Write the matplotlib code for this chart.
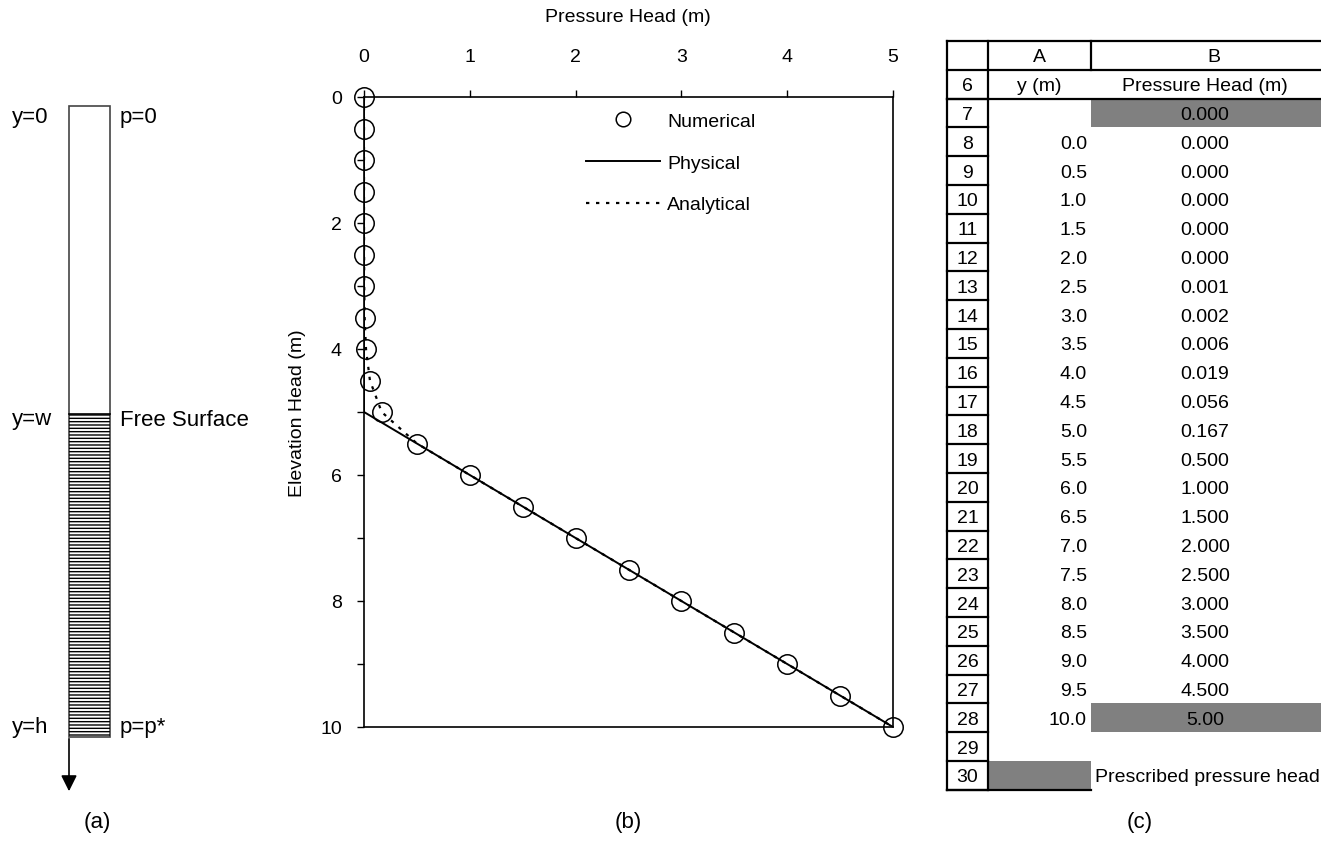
import matplotlib
matplotlib.use('Agg')
import matplotlib.pyplot as plt
from matplotlib.patches import Rectangle

plt.rcParams['font.family'] = ['Liberation Sans', 'DejaVu Sans']
plt.rcParams['hatch.linewidth'] = 1.0

# values (spreadsheet rows 8-28)
elevation = [0.0, 0.5, 1.0, 1.5, 2.0, 2.5, 3.0, 3.5, 4.0, 4.5, 5.0,
             5.5, 6.0, 6.5, 7.0, 7.5, 8.0, 8.5, 9.0, 9.5, 10.0]
numerical = [0.000, 0.000, 0.000, 0.000, 0.000, 0.001, 0.002, 0.006, 0.019, 0.056, 0.167,
             0.500, 1.000, 1.500, 2.000, 2.500, 3.000, 3.500, 4.000, 4.500, 5.000]
analytical = [0.000, 0.000, 0.000, 0.000, 0.000, 0.001, 0.002, 0.006, 0.019, 0.056, 0.167,
              0.500, 1.000, 1.500, 2.000, 2.500, 3.000, 3.500, 4.000, 4.500, 5.000]
physical_y = [0.0, 5.0, 10.0]
physical_p = [0.0, 0.0, 5.0]

row_numbers = list(range(6, 31))
col_a = ['y (m)', ''] + ['%.1f' % v for v in elevation] + ['', '']
col_b = ['Pressure Head (m)', '0.000'] + ['%.3f' % v for v in numerical[:-1]] + \
    ['5.00', '', 'Prescribed pressure head']
shaded = {(7, 'B'), (28, 'B'), (30, 'A')}

W, H = 1321, 853
fig = plt.figure(figsize=(W / 100, H / 100), dpi=100)

# overlay in pixel coordinates for panels (a) and (c)
ov = fig.add_axes([0, 0, 1, 1])
ov.set_xlim(0, W)
ov.set_ylim(H, 0)
ov.axis('off')

# ---- (a) column sketch
ov.add_patch(Rectangle((69, 107), 41, 631, fill=False, lw=1.2, edgecolor='#444444'))
ov.add_patch(Rectangle((69, 415), 41, 323, fill=False, lw=0, hatch='-----', edgecolor='black'))
ov.plot([69, 110], [415, 415], color='black', lw=1.2)
ov.annotate('', xy=(69, 795), xytext=(69, 737),
            arrowprops=dict(arrowstyle='-|>', color='black', lw=1.2, mutation_scale=24))
fs_a = 16
ov.text(12, 117, 'y=0', fontsize=fs_a, va='center', ha='left')
ov.text(120, 117, 'p=0', fontsize=fs_a, va='center', ha='left')
ov.text(12, 420, 'y=w', fontsize=fs_a, va='center', ha='left')
ov.text(120, 420, 'Free Surface', fontsize=fs_a, va='center', ha='left')
ov.text(12, 727, 'y=h', fontsize=fs_a, va='center', ha='left')
ov.text(120, 727, 'p=p*', fontsize=fs_a, va='center', ha='left')
ov.text(97, 823, '(a)', fontsize=fs_a, va='center', ha='center')
ov.text(628, 823, '(b)', fontsize=fs_a, va='center', ha='center')
ov.text(1140, 823, '(c)', fontsize=fs_a, va='center', ha='center')

# ---- (c) spreadsheet
x0, x1, x2, x3 = 947, 988, 1091, 1321
top, pitch = 42, 28.8
n_rows = len(row_numbers) + 1
bottom = top + n_rows * pitch
lw_t = 1.6
fs_t = 14

for r, a, b in zip(row_numbers, col_a, col_b):
    i = r - 5
    ry = top + i * pitch
    if (r, 'A') in shaded:
        ov.add_patch(Rectangle((x1, ry), x2 - x1, pitch, color='#808080', lw=0))
    if (r, 'B') in shaded:
        ov.add_patch(Rectangle((x2, ry), x3 - x2, pitch, color='#808080', lw=0))
    cy = ry + pitch / 2 + 1.5
    ov.text((x0 + x1) / 2, cy, str(r), fontsize=fs_t, ha='center', va='center')
    if r == 6:
        ov.text((x1 + x2) / 2, cy, a, fontsize=fs_t, ha='center', va='center')
    elif a:
        ov.text(x2 - 4, cy, a, fontsize=fs_t, ha='right', va='center')
    if r == 30:
        ov.text(x2 + 4, cy, b, fontsize=fs_t, ha='left', va='center')
    elif b:
        ov.text(1205, cy, b, fontsize=fs_t, ha='center', va='center')
    ov.plot([x0, x1], [ry + pitch, ry + pitch], color='black', lw=lw_t)

ov.text((x1 + x2) / 2, top + pitch / 2 + 1.5, 'A', fontsize=fs_t, ha='center', va='center')
ov.text(1214, top + pitch / 2 + 1.5, 'B', fontsize=fs_t, ha='center', va='center')
ov.plot([x0, x3], [top, top], color='black', lw=lw_t)
ov.plot([x0, x3], [top + pitch, top + pitch], color='black', lw=lw_t)
ov.plot([x0, x3], [top + 2 * pitch, top + 2 * pitch], color='black', lw=lw_t)
ov.plot([x0, x2], [bottom, bottom], color='black', lw=lw_t)
ov.plot([x0, x0], [top, bottom], color='black', lw=lw_t)
ov.plot([x1, x1], [top, bottom], color='black', lw=lw_t)
ov.plot([x2, x2], [top, top + pitch], color='black', lw=lw_t)

# ---- (b) chart
fs_b = 14
ax = fig.add_axes([364 / W, 1 - 728 / H, (893 - 364) / W, (728 - 98) / H])
ax.patch.set_alpha(0)
ax.plot(physical_p, physical_y, color='black', lw=1.4, label='Physical', zorder=3)
ax.plot(analytical, elevation, color='black', lw=1.6, linestyle=(0, (1.5, 3)),
        label='Analytical', zorder=3)
ax.plot(numerical, elevation, linestyle='none', marker='o', markersize=14,
        markerfacecolor='none', markeredgecolor='black', markeredgewidth=1.1,
        label='Numerical', clip_on=False, zorder=4)

ax.set_xlim(0, 5)
ax.set_ylim(10, 0)
ax.xaxis.tick_top()
ax.set_xticks(range(0, 6))
ax.set_yticks(range(0, 11))
ax.set_yticklabels([str(v) if v % 2 == 0 else '' for v in range(0, 11)])
ax.tick_params(axis='x', direction='out', length=5, width=1, pad=18, labelsize=fs_b)
ax.tick_params(axis='y', direction='out', length=5, width=1, pad=11, labelsize=fs_b)
for s in ax.spines.values():
    s.set_linewidth(1.2)

ax.xaxis.set_label_position('top')
ax.set_xlabel('Pressure Head (m)', fontsize=fs_b, va='center')
ax.xaxis.set_label_coords(0.499, (728 - 18) / 630)
ax.set_ylabel('Elevation Head (m)', fontsize=fs_b, va='center')
ax.yaxis.set_label_coords((298 - 364) / 529, 0.5)

handles, labels = ax.get_legend_handles_labels()
order = [2, 0, 1]
ax.legend([handles[i] for i in order], [labels[i] for i in order],
          loc='upper left', bbox_to_anchor=(586 / W, 1 - 113 / H),
          bbox_transform=fig.transFigure, frameon=False, fontsize=fs_b,
          borderpad=0, borderaxespad=0, handlelength=3.8, handletextpad=0.36,
          labelspacing=1.25, markerscale=0.75)

fig.savefig('out.png', dpi=100, facecolor='white')
